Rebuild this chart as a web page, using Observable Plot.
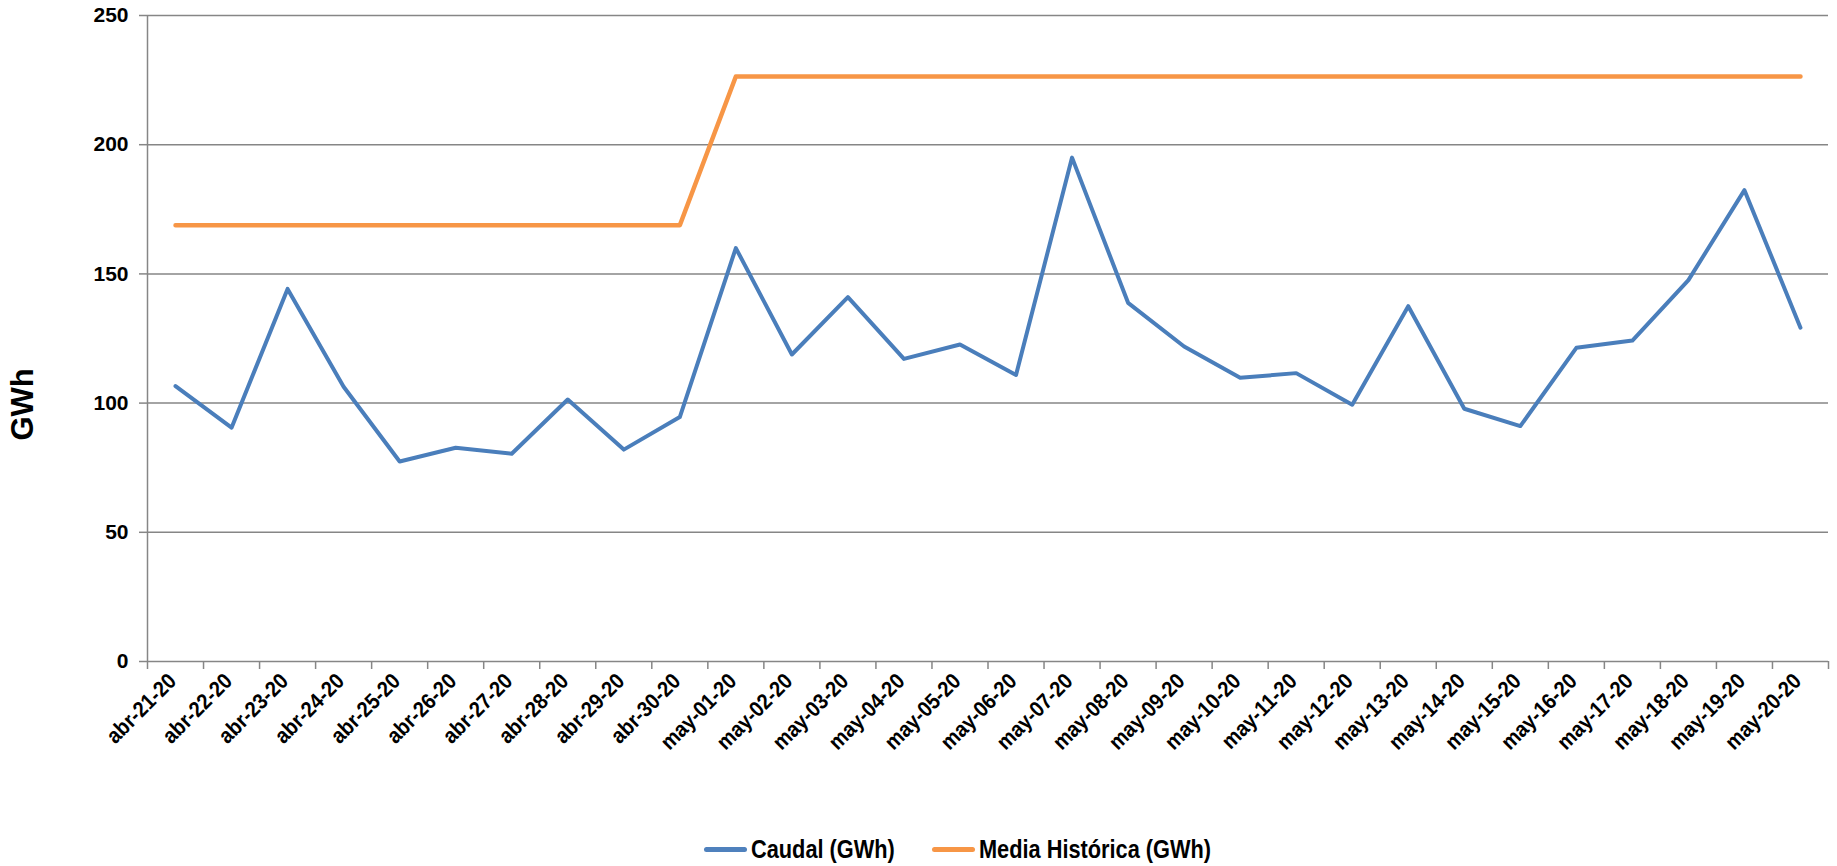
<!DOCTYPE html>
<html>
<head>
<meta charset="utf-8">
<script src="https://cdn.jsdelivr.net/npm/d3@7"></script>
<script src="https://cdn.jsdelivr.net/npm/@observablehq/plot@0.6"></script>
<style>
  html, body { margin: 0; padding: 0; background: #fff; }
  #wrap { position: relative; width: 1837px; height: 866px; }
  #legend { position: relative; width: 1837px; height: 40px;
    font-family: "Liberation Sans", Arial, sans-serif; font-weight: bold; font-size: 25px; color: #000; }
  .swatch { position: absolute; top: 21px; width: 43px; height: 5px; border-radius: 3px; }
  .lab { position: absolute; top: 9px; line-height: 28px; white-space: nowrap; transform: scaleX(0.87); transform-origin: 0 50%; }
</style>
</head>
<body>
<div id="wrap">
  <div id="chart"></div>
  <div id="legend">
    <div class="swatch" style="left:704px;background:#4F81BD"></div><span class="lab" style="left:751px">Caudal (GWh)</span>
    <div class="swatch" style="left:932px;background:#F79646"></div><span class="lab" style="left:979px">Media Histórica (GWh)</span>
  </div>
</div>
<script>
const dates = ["abr-21-20","abr-22-20","abr-23-20","abr-24-20","abr-25-20","abr-26-20","abr-27-20","abr-28-20","abr-29-20","abr-30-20",
  "may-01-20","may-02-20","may-03-20","may-04-20","may-05-20","may-06-20","may-07-20","may-08-20","may-09-20","may-10-20",
  "may-11-20","may-12-20","may-13-20","may-14-20","may-15-20","may-16-20","may-17-20","may-18-20","may-19-20","may-20-20"];
const caudal = [106.6, 90.5, 144.2, 106.3, 77.4, 82.7, 80.4, 101.4, 82.0, 94.6,
  160.0, 118.8, 141.0, 117.1, 122.7, 110.9, 195.0, 138.8, 121.9, 109.8,
  111.6, 99.4, 137.5, 97.8, 91.1, 121.4, 124.2, 147.6, 182.4, 129.2];
const media = [168.8,168.8,168.8,168.8,168.8,168.8,168.8,168.8,168.8,168.8,
  226.4,226.4,226.4,226.4,226.4,226.4,226.4,226.4,226.4,226.4,
  226.4,226.4,226.4,226.4,226.4,226.4,226.4,226.4,226.4,226.4];
const yTicks = [0, 50, 100, 150, 200, 250];

const rows = dates.map((d, i) => ({i, pos: i + 0.5, date: d, caudal: caudal[i], media: media[i]}));
const boundaries = d3.range(dates.length + 1);
const centers = rows.map(r => r.pos);
const grid = "#868686";
const font = '"Liberation Sans", Arial, sans-serif';

const chart = Plot.plot({
  width: 1837,
  height: 826,
  marginLeft: 147,
  marginRight: 9,
  marginTop: 15,
  marginBottom: 165,
  style: {fontFamily: font, fontWeight: "bold", fontSize: "21px", color: "#000", background: "#fff"},
  x: {type: "linear", domain: [0, dates.length]},
  y: {domain: [0, 250]},
  marks: [
    Plot.gridY(yTicks, {stroke: grid, strokeOpacity: 1, strokeWidth: 1.5}),
    Plot.ruleX([0], {y1: 0, y2: 250, stroke: grid, strokeWidth: 1.5}),
    Plot.axisY(yTicks, {tickSize: 8, tickPadding: 11, stroke: grid, strokeWidth: 1.5, fill: "#000", label: null, fontSize: 21}),
    Plot.axisX(boundaries, {tickSize: 8, stroke: grid, strokeWidth: 1.5, tickFormat: () => "", label: null}),
    Plot.axisX(centers, {tickSize: 0, tickPadding: 16, dx: -3, tickRotate: -45, fill: "#000", label: null, fontSize: 22,
      tickFormat: v => dates[Math.floor(v)]}),
    Plot.text(["GWh"], {frameAnchor: "left", dx: -124, dy: 102, rotate: -90, text: d => d, fontSize: 31,
      fontWeight: "bold", fill: "#000"}),
    Plot.line(rows, {x: "pos", y: "media", stroke: "#F79646", strokeWidth: 4.5, strokeLinecap: "round", strokeLinejoin: "round"}),
    Plot.line(rows, {x: "pos", y: "caudal", stroke: "#4A7EBB", strokeWidth: 4, strokeLinecap: "round", strokeLinejoin: "round"})
  ]
});
document.getElementById("chart").appendChild(chart);

// condense x tick label glyphs (reference uses a narrow typeface)
d3.select(chart).selectAll("g[aria-label='x-axis tick label'] text").each(function() {
  const t = this.getAttribute("transform") || "";
  this.setAttribute("transform", t + " scale(0.9,1)");
});
</script>
</body>
</html>
